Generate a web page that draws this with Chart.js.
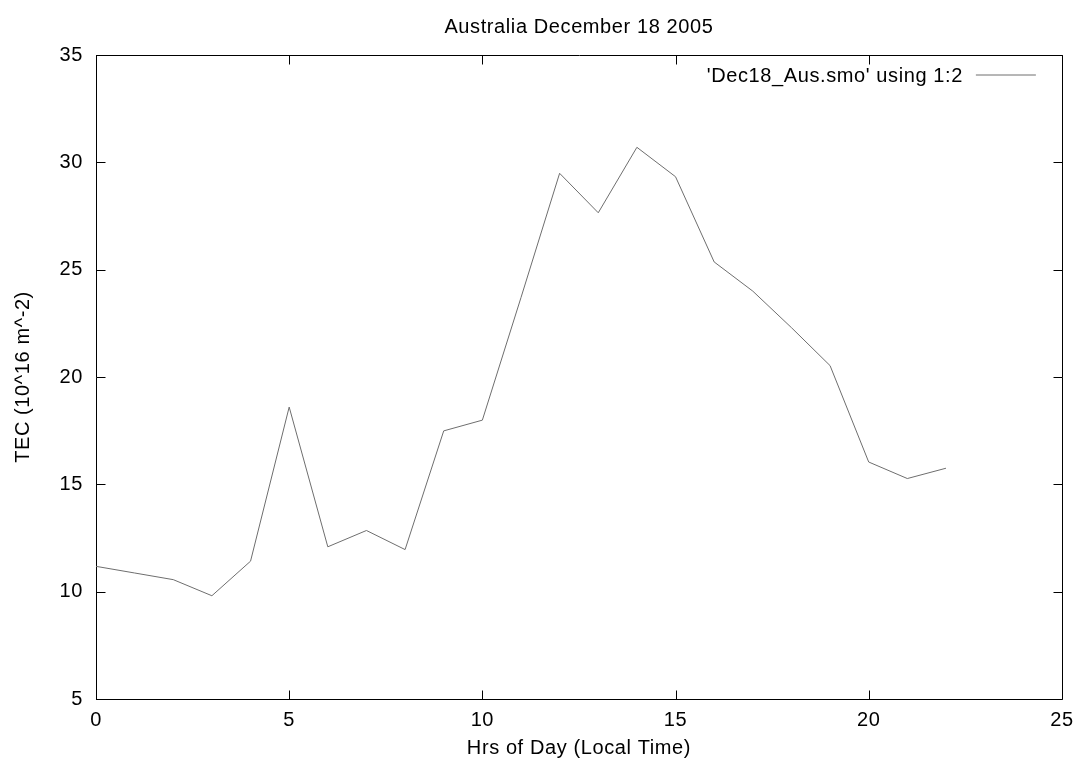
<!DOCTYPE html>
<html>
<head>
<meta charset="utf-8">
<script src="https://cdn.jsdelivr.net/npm/chart.js@4/dist/chart.umd.min.js"></script>
<style>
  html, body { margin: 0; padding: 0; background: #fff; }
  #wrap { width: 1082px; height: 768px; }
</style>
</head>
<body>
<div id="wrap"><canvas id="grafica"></canvas></div>
<script>
// datos
const horas = [0, 1, 2, 3, 4, 5, 6, 7, 8, 9, 10, 11, 12, 13, 14, 15, 16, 17, 18, 19, 20, 21, 22];
const tec = [11.18, 10.87, 10.56, 9.81, 11.42, 18.6, 12.09, 12.85, 11.96, 17.49, 17.99, 23.7,
             29.49, 27.65, 30.7, 29.33, 25.36, 24.0, 22.3, 20.53, 16.04, 15.27, 15.75];
const ticksX = [0, 5, 10, 15, 20, 25];
const ticksY = [5, 10, 15, 20, 25, 30, 35];

const titulo = "Australia December 18 2005";
const leyenda = "'Dec18_Aus.smo' using 1:2";
const colorLinea = "#6e6e6e";
const fuente = "'Liberation Sans', Arial, sans-serif";

// marco estilo gnuplot: borde arriba/derecha, ticks hacia adentro, titulo y leyenda
const marcoGnuplot = {
    id: "marcoGnuplot",
    beforeDraw(chart) {
        chart.ctx.letterSpacing = "0.6px";
    },
    afterDraw(chart) {
        let ctx = chart.ctx;
        let a = chart.chartArea;
        let sx = chart.scales.x;
        let sy = chart.scales.y;
        let L = Math.round(a.left) + 0.5, R = Math.round(a.right) + 0.5;
        let T = Math.round(a.top) + 0.5, B = Math.round(a.bottom) + 0.5;
        ctx.save();
        ctx.strokeStyle = "#000";
        ctx.lineWidth = 1;
        ctx.beginPath();
        ctx.moveTo(L, T); ctx.lineTo(R, T); ctx.lineTo(R, B);
        let largo = 9;
        ticksX.forEach(v => {
            let px = Math.round(sx.getPixelForValue(v)) + 0.5;
            ctx.moveTo(px, B); ctx.lineTo(px, B - largo);
            ctx.moveTo(px, T); ctx.lineTo(px, T + largo);
        });
        ticksY.forEach(v => {
            let py = Math.round(sy.getPixelForValue(v)) + 0.5;
            ctx.moveTo(L, py); ctx.lineTo(L + largo, py);
            ctx.moveTo(R, py); ctx.lineTo(R - largo, py);
        });
        ctx.stroke();

        ctx.letterSpacing = "0.6px";
        ctx.fillStyle = "#000";
        ctx.font = "20px " + fuente;
        ctx.textAlign = "center";
        ctx.textBaseline = "middle";
        ctx.fillText(titulo, (a.left + a.right) / 2, 27);

        ctx.textAlign = "right";
        ctx.fillText(leyenda, a.right - 99, 76);
        ctx.strokeStyle = colorLinea;
        ctx.beginPath();
        ctx.moveTo(a.right - 86, 75);
        ctx.lineTo(a.right - 26, 75);
        ctx.stroke();
        ctx.restore();
    }
};

let ctx = document.getElementById("grafica").getContext("2d");
new Chart(ctx, {
    type: "line",
    data: {
        datasets: [{
            label: leyenda,
            data: horas.map((h, i) => ({ x: h, y: tec[i] })),
            borderColor: colorLinea,
            borderWidth: 1,
            pointRadius: 0,
            tension: 0,
            fill: false
        }]
    },
    options: {
        responsive: true,
        maintainAspectRatio: false,
        animation: false,
        layout: { padding: { top: 55, right: 18, left: 0, bottom: 0 } },
        plugins: {
            legend: { display: false },
            title: { display: false },
            tooltip: { enabled: false }
        },
        scales: {
            x: {
                type: "linear",
                min: 0,
                max: 25,
                afterFit: s => { s.height = 69; },
                afterBuildTicks: s => { s.ticks = ticksX.map(v => ({ value: v })); },
                grid: { drawOnChartArea: false, drawTicks: false },
                border: { display: true, color: "#000", width: 1 },
                ticks: { color: "#000", padding: 9, font: { size: 20, family: fuente } },
                title: {
                    display: true,
                    text: "Hrs of Day (Local Time)",
                    color: "#000",
                    padding: { top: 0, bottom: 8 },
                    font: { size: 20, family: fuente }
                }
            },
            y: {
                type: "linear",
                min: 5,
                max: 35,
                afterFit: s => { s.width = 96; },
                afterBuildTicks: s => { s.ticks = ticksY.map(v => ({ value: v })); },
                grid: { drawOnChartArea: false, drawTicks: false },
                border: { display: true, color: "#000", width: 1 },
                ticks: { color: "#000", padding: 13, font: { size: 20, family: fuente } },
                title: {
                    display: true,
                    text: "TEC (10^16 m^-2)",
                    color: "#000",
                    padding: { top: 11, bottom: 0 },
                    font: { size: 20, family: fuente }
                }
            }
        }
    },
    plugins: [marcoGnuplot]
});
</script>
</body>
</html>
